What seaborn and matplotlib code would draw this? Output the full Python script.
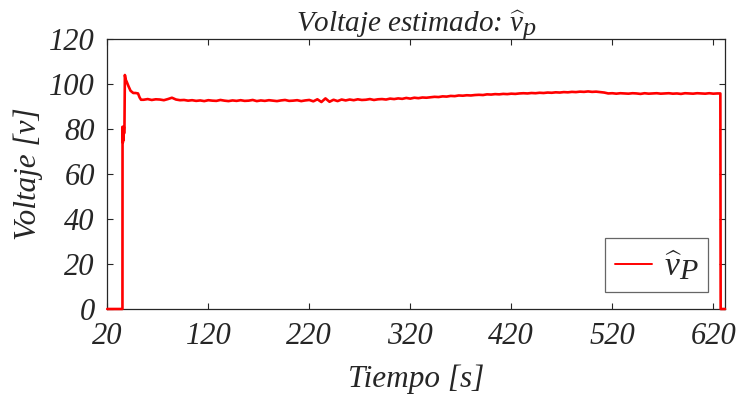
import matplotlib
matplotlib.use("Agg")
import matplotlib.pyplot as plt
import matplotlib._mathtext as _mt
import seaborn as sns
import pandas as pd

# Sampled estimate of the voltage (seconds, volts)
start_times = [20, 35.0, 35.1, 35.4, 35.7, 36.0, 36.3, 36.6, 37.0, 37.4,
               38.2, 39.2, 41.0, 43.0, 45.7, 48.0, 50.4, 52.0, 53.4]
start_volts = [0, 0, 81, 74, 80, 75, 81, 78, 81, 104,
               102, 101, 99, 97, 96, 96, 95.8, 94, 93]

run_times = [
    56, 60, 64, 68, 72, 76, 80, 84, 88, 92,
    96, 100, 104, 108, 112, 116, 120, 124, 128, 132,
    136, 140, 144, 148, 152, 156, 160, 164, 168, 172,
    176, 180, 184, 188, 192, 196, 200, 204, 208, 212,
    216, 220, 224, 228, 232, 236, 240, 244, 248, 252,
    256, 260, 264, 268, 272, 276, 280, 284, 288, 292,
    296, 300, 304, 308, 312, 316, 320, 324, 328, 332,
    336, 340, 344, 348, 352, 356, 360, 364, 368, 372,
    376, 380, 384, 388, 392, 396, 400, 404, 408, 412,
    416, 420, 424, 428, 432, 436, 440, 444, 448, 452,
    456, 460, 464, 468, 472, 476, 480, 484, 488, 492,
    496, 500, 504, 508, 512, 516, 520, 524, 528, 532,
    536, 540, 544, 548, 552, 556, 560, 564, 568, 572,
    576, 580, 584, 588, 592, 596, 600, 604, 608, 612,
    616, 620, 624,
]
run_volts = [
    93.0, 93.3, 92.9, 93.2, 93.1, 92.8, 93.3, 93.9, 93.1, 92.8,
    92.9, 92.6, 92.8, 92.5, 92.7, 92.4, 92.8, 92.6, 92.5, 92.9,
    92.6, 92.4, 92.7, 92.5, 92.8, 92.5, 92.6, 92.9, 92.4, 92.7,
    92.5, 92.8, 92.6, 92.4, 92.7, 92.9, 92.5, 92.6, 92.8, 92.4,
    92.7, 92.9, 92.3, 93.2, 92.0, 93.6, 92.1, 93.0, 92.4, 93.1,
    92.7, 93.1, 92.8, 93.2, 92.9, 93.0, 93.3, 92.9, 93.2, 93.3,
    93.1, 93.5, 93.3, 93.6, 93.4, 93.8, 93.5, 93.9, 93.7, 94.0,
    93.9, 94.1, 94.3, 94.2, 94.5, 94.4, 94.7, 94.6, 94.9, 94.8,
    95.0, 94.9, 95.1, 95.2, 95.1, 95.4, 95.3, 95.5, 95.4, 95.6,
    95.5, 95.7, 95.6, 95.8, 95.9, 95.8, 96.0, 95.9, 96.1, 96.0,
    96.2, 96.1, 96.3, 96.2, 96.4, 96.3, 96.5, 96.4, 96.6, 96.5,
    96.7, 96.5, 96.6, 96.4, 96.2, 95.8, 95.9, 95.7, 95.9, 95.8,
    95.7, 95.9, 95.8, 95.6, 95.9, 95.7, 95.8, 95.9, 95.7, 95.8,
    95.9, 95.7, 95.8, 95.6, 95.9, 95.8, 95.7, 95.9, 95.8, 95.7,
    95.9, 95.7, 95.8,
]

end_times = [627.0, 627.3, 631.6]
end_volts = [95.8, 0, 0]

x_ticks = [20, 120, 220, 320, 420, 520, 620]
y_ticks = [0, 20, 40, 60, 80, 100, 120]

title_text = r"Voltaje estimado: $\widehat{v}_p$"
x_label = "Tiempo [s]"
y_label = "Voltaje [v]"
series_label = r"$\widehat{v}_P$"

df = pd.DataFrame({
    "t": start_times + run_times + end_times,
    "v": start_volts + run_volts + end_volts,
})

sns.set_theme(style="ticks")
plt.rcParams.update({
    "font.family": ["Liberation Serif", "DejaVu Serif"],
    "font.style": "italic",
    "mathtext.fontset": "custom",
    "mathtext.rm": "Liberation Serif:italic",
    "mathtext.it": "Liberation Serif:italic",
    "mathtext.bf": "Liberation Serif:italic:bold",
    "axes.edgecolor": "#262626",
    "axes.linewidth": 0.9,
    "xtick.color": "#262626",
    "ytick.color": "#262626",
    "text.color": "#262626",
    "axes.labelcolor": "#262626",
})
# MATLAB-style sub/superscripts stay close to full size
_mt.SHRINK_FACTOR = 0.9

fig = plt.figure(figsize=(7.39, 4.01), dpi=100)
ax = fig.add_axes([107.3 / 739, 1 - 309 / 401, (725 - 107.3) / 739, (309 - 39) / 401])

sns.lineplot(data=df, x="t", y="v", ax=ax, color="red", linewidth=1.9,
             estimator=None, sort=False, label=series_label)
for ln in ax.lines:
    ln.set_clip_on(False)
    ln.set_zorder(3)

ax.set_xlim(20, 631.6)
ax.set_ylim(0, 120)
ax.set_xticks(x_ticks)
ax.set_yticks(y_ticks)
ax.set_xticklabels([str(v) for v in x_ticks])
ax.set_yticklabels([str(v) for v in y_ticks])
ax.tick_params(axis="both", direction="in", length=4, width=0.8,
               top=True, right=True, labelsize=22)
ax.tick_params(axis="x", pad=9)
ax.tick_params(axis="y", pad=9)
for s in ax.spines.values():
    s.set_visible(True)

ax.set_xlabel(x_label, fontsize=22.5, labelpad=10)
ax.set_ylabel(y_label, fontsize=22.5, labelpad=4)
ax.set_title(title_text, fontsize=21, pad=5)

leg = ax.legend(loc="lower right", fontsize=24, frameon=True, fancybox=False,
                handlelength=1.1, handletextpad=0.35, borderpad=0.3,
                borderaxespad=0.5, framealpha=1)
leg.get_frame().set_edgecolor("#666666")
leg.get_frame().set_linewidth(0.9)
for h in leg.get_lines():
    h.set_linewidth(1.4)

fig.savefig("out.png", dpi=100)
